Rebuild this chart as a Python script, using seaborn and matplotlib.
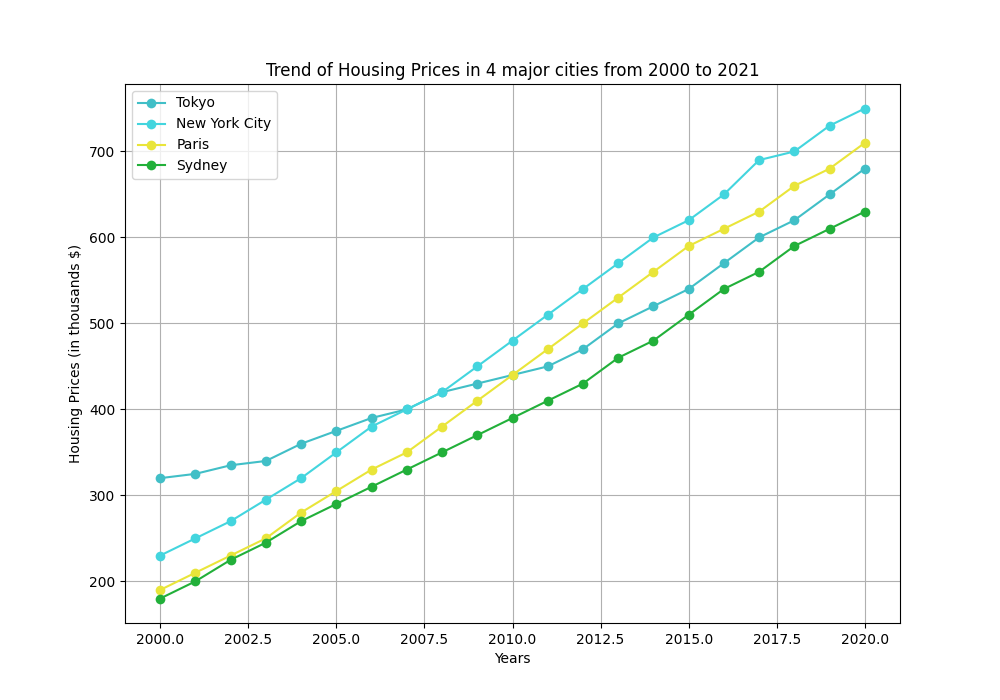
# trend of housing prices in four cities
import matplotlib
matplotlib.use('Agg')
import matplotlib.pyplot as plt
import seaborn as sns
import pandas as pd

years = list(range(2000, 2021))
tokyo = [320, 325, 335, 340, 360, 375, 390, 400, 420, 430, 440, 450, 470, 500, 520, 540, 570, 600, 620, 650, 680]
new_york = [230, 250, 270, 295, 320, 350, 380, 400, 420, 450, 480, 510, 540, 570, 600, 620, 650, 690, 700, 730, 750]
paris = [190, 210, 230, 250, 280, 305, 330, 350, 380, 410, 440, 470, 500, 530, 560, 590, 610, 630, 660, 680, 710]
sydney = [180, 200, 225, 245, 270, 290, 310, 330, 350, 370, 390, 410, 430, 460, 480, 510, 540, 560, 590, 610, 630]

cities = ['Tokyo', 'New York City', 'Paris', 'Sydney']
colors = ['#41bfc7', '#43d5de', '#e9e53a', '#22b03a']

data = pd.DataFrame({'Tokyo': tokyo, 'New York City': new_york,
                     'Paris': paris, 'Sydney': sydney}, index=years)
data = data.reset_index().melt(id_vars='index', var_name='City', value_name='Price')

plt.figure(figsize=(10, 7), dpi=100)
ax = sns.lineplot(data=data, x='index', y='Price', hue='City', hue_order=cities,
                  palette=colors, marker='o', markersize=7, markeredgewidth=0)
ax.set_title('Trend of Housing Prices in 4 major cities from 2000 to 2021')
ax.set_xlabel('Years')
ax.set_ylabel('Housing Prices (in thousands $)')
ax.grid(True)
ax.legend(loc='upper left')
plt.savefig('out.png')
